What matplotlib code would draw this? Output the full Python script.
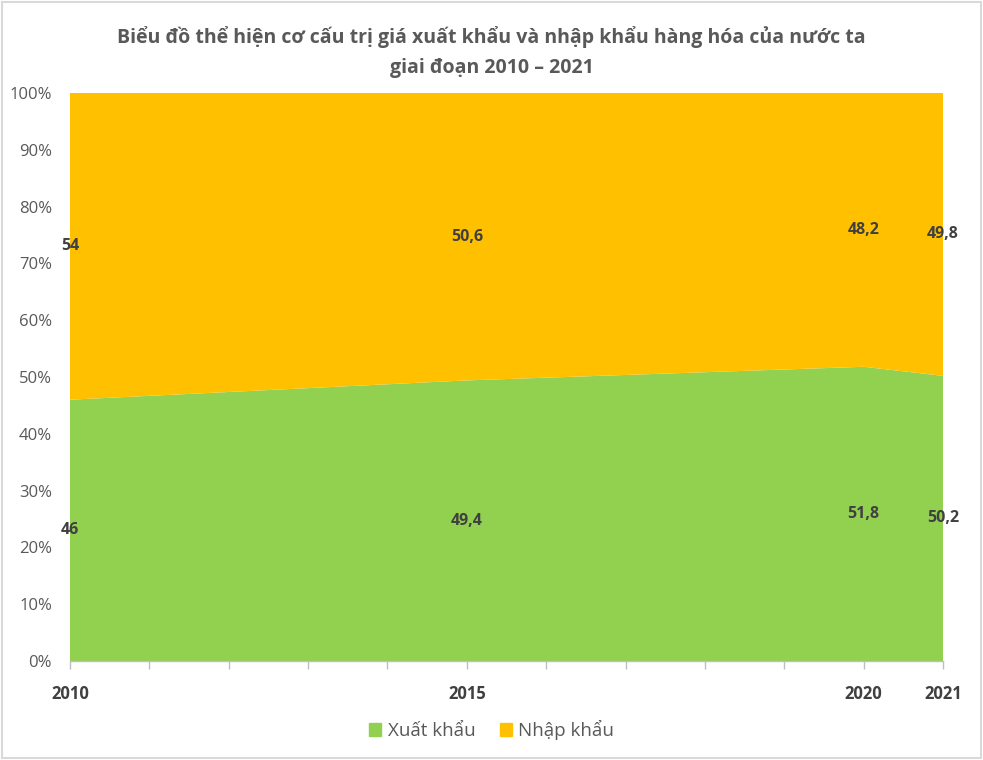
import matplotlib
matplotlib.use("Agg")
import matplotlib.pyplot as plt
from matplotlib.patches import Rectangle, Patch
from matplotlib.ticker import FuncFormatter

plt.rcParams['font.family'] = ['Open Sans', 'DejaVu Sans']

years = [2010, 2015, 2020, 2021]
xuat_khau = [46, 49.4, 51.8, 50.2]
nhap_khau = [54, 50.6, 48.2, 49.8]
labels_xk = ["46", "49,4", "51,8", "50,2"]
labels_nk = ["54", "50,6", "48,2", "49,8"]
tick_years = list(range(2010, 2022))
shown_years = [2010, 2015, 2020, 2021]
title = "Biểu đồ thể hiện cơ cấu trị giá xuất khẩu và nhập khẩu hàng hóa của nước ta\ngiai đoạn 2010 – 2021"

GREEN = "#92D050"
ORANGE = "#FFC000"
TXT = "#595959"
DARK = "#404040"

fig = plt.figure(figsize=(9.83, 7.6), dpi=100)
fig.patch.set_facecolor("white")
fig.add_artist(Rectangle((0.002, 0.002), 0.996, 0.996, transform=fig.transFigure,
                         fill=False, edgecolor="#D9D9D9", linewidth=1.5))

ax = fig.add_axes([70/983, 1-661/760, (943-70)/983, (661-93)/760])
total = [a + b for a, b in zip(xuat_khau, nhap_khau)]
xk_pct = [a / t * 100 for a, t in zip(xuat_khau, total)]
nk_pct = [b / t * 100 for b, t in zip(nhap_khau, total)]
ax.stackplot(years, xk_pct, nk_pct, colors=[GREEN, ORANGE], labels=["Xuất khẩu", "Nhập khẩu"],
             linewidth=0)
ax.set_xlim(2010, 2021)
ax.set_ylim(0, 100)

for y, a, b, la, lb in zip(years, xk_pct, nk_pct, labels_xk, labels_nk):
    ax.text(y, a / 2, la, ha="center", va="center", fontsize=11.5, fontweight="bold",
            color=DARK, clip_on=False)
    ax.text(y, a + b / 2, lb, ha="center", va="center", fontsize=11.5, fontweight="bold",
            color=DARK, clip_on=False)

ax.set_yticks(range(0, 101, 10))
ax.yaxis.set_major_formatter(FuncFormatter(lambda v, p: f"{int(v)}%"))
ax.tick_params(axis="y", length=0, labelsize=12, labelcolor=TXT, pad=13)
ax.set_xticks(tick_years)
ax.set_xticklabels([str(y) if y in shown_years else "" for y in tick_years])
ax.tick_params(axis="x", length=6, width=1, color="#BFBFBF", direction="out",
               labelsize=12, labelcolor=DARK, pad=11)
for lab in ax.get_xticklabels():
    lab.set_fontweight("bold")
for s in ["top", "right", "left"]:
    ax.spines[s].set_visible(False)
ax.spines["bottom"].set_color("#BFBFBF")
ax.spines["bottom"].set_linewidth(1)
ax.spines["bottom"].set_zorder(5)

fig.text(0.5, 1-52/760, title, ha="center", va="center", fontsize=14,
         fontweight="bold", color=TXT, linespacing=1.6)

handles = [Patch(facecolor=GREEN, edgecolor=GREEN), Patch(facecolor=ORANGE, edgecolor=ORANGE)]
fig.legend(handles, ["Xuất khẩu", "Nhập khẩu"], loc="center", bbox_to_anchor=(0.5, 1-730/760),
           ncol=2, frameon=False, fontsize=13.5, labelcolor=TXT, handlelength=0.65,
           handleheight=0.65, handletextpad=0.35, columnspacing=1.3)

fig.savefig("out.png", dpi=100)
